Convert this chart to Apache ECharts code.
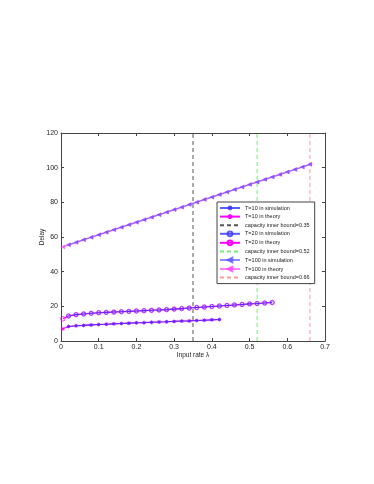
<!DOCTYPE html>
<html><head><meta charset="utf-8">
<script src="https://cdn.jsdelivr.net/npm/echarts@6/dist/echarts.min.js"></script>
<style>html,body{margin:0;padding:0;background:#fff}#c{width:374px;height:484px}</style>
</head><body><div id="c"></div>
<script>
// ---- data ----
const lam10 = [0.02,0.04,0.06,0.08,0.10,0.12,0.14,0.16,0.18,0.20,0.22,0.24,0.26,0.28,0.30,0.32,0.34,0.36,0.38,0.40,0.42];
const sim10 = [8.4,8.8,9.0,9.3,9.5,9.7,9.9,10.1,10.3,10.5,10.6,10.8,11.0,11.1,11.3,11.5,11.6,11.8,12.0,12.2,12.4];
const theoLam10 = [0.005,0.02,0.04,0.06,0.08,0.10,0.12,0.14,0.16,0.18,0.20,0.22,0.24,0.26,0.28,0.30,0.32,0.34,0.36,0.38,0.40,0.42];
const theo10 = [7.0,8.4,8.8,9.0,9.3,9.5,9.7,9.9,10.1,10.3,10.5,10.6,10.8,11.0,11.1,11.3,11.5,11.6,11.8,12.0,12.2,12.4];

const lam20 = [0.02,0.04,0.06,0.08,0.10,0.12,0.14,0.16,0.18,0.20,0.22,0.24,0.26,0.28,0.30,0.32,0.34,0.36,0.38,0.40,0.42,0.44,0.46,0.48,0.50,0.52,0.54,0.56];
const sim20 = [14.4,15.2,15.6,16.0,16.3,16.5,16.7,16.9,17.1,17.3,17.5,17.7,17.9,18.1,18.4,18.7,19.0,19.3,19.6,19.9,20.2,20.5,20.8,21.1,21.4,21.6,21.9,22.2];
const theoLam20 = [0.005,0.02,0.04,0.06,0.08,0.10,0.12,0.14,0.16,0.18,0.20,0.22,0.24,0.26,0.28,0.30,0.32,0.34,0.36,0.38,0.40,0.42,0.44,0.46,0.48,0.50,0.52,0.54,0.56];
const theo20 = [12.8,14.4,15.2,15.6,16.0,16.3,16.5,16.7,16.9,17.1,17.3,17.5,17.7,17.9,18.1,18.4,18.7,19.0,19.3,19.6,19.9,20.2,20.5,20.8,21.1,21.4,21.6,21.9,22.2];

const lam100 = [0.02,0.04,0.06,0.08,0.10,0.12,0.14,0.16,0.18,0.20,0.22,0.24,0.26,0.28,0.30,0.32,0.34,0.36,0.38,0.40,0.42,0.44,0.46,0.48,0.50,0.52,0.54,0.56,0.58,0.60,0.62,0.64,0.66];
const sim100 = [55.5,56.9,58.4,59.8,61.3,62.7,64.2,65.6,67.1,68.5,70.0,71.4,72.9,74.3,75.8,77.2,78.7,80.1,81.6,83.0,84.5,85.9,87.4,88.8,90.3,91.7,93.2,94.6,96.1,97.5,99.0,100.4,101.9];
const theoLam100 = [0.005,0.02,0.04,0.06,0.08,0.10,0.12,0.14,0.16,0.18,0.20,0.22,0.24,0.26,0.28,0.30,0.32,0.34,0.36,0.38,0.40,0.42,0.44,0.46,0.48,0.50,0.52,0.54,0.56,0.58,0.60,0.62,0.64,0.66];
const theo100 = [54.2,55.5,56.9,58.4,59.8,61.3,62.7,64.2,65.6,67.1,68.5,70.0,71.4,72.9,74.3,75.8,77.2,78.7,80.1,81.6,83.0,84.5,85.9,87.4,88.8,90.3,91.7,93.2,94.6,96.1,97.5,99.0,100.4,101.9];

const bounds = [0.35, 0.52, 0.66];
const boundNames = ['capacity inner bound=0.35','capacity inner bound=0.52','capacity inner bound=0.66'];
const xTicks = {min:0, max:0.7, interval:0.1};
const yTicks = {min:0, max:120, interval:20};

// ---- chart ----
const pairs = (xs, ys) => xs.map((x,i)=>[x, ys[i]]);
const FONT = 'Liberation Sans';
const BLUE = 'rgba(50,50,255,0.8)';
const BLUE2 = 'rgba(90,90,255,0.7)';
const MAG = '#ff00ff';
const MAG2 = 'rgba(255,60,255,0.65)';
const CLEAR = 'rgba(0,0,0,0)';
const star = 'path://M0,-10L0,10M-10,0L10,0M-7,-7L7,7M-7,7L7,-7';

function ser(name, data, color, symbol, size, lw, item, extra) {
  return Object.assign({
    name, type:'line', data, symbol, symbolSize:size, showSymbol:true,
    lineStyle:{color, width:lw}, itemStyle:item,
    animation:false, z:3
  }, extra||{});
}
function vline(name, x, color) {
  return {name, type:'line', data:[[x,0],[x,120]], symbol:'none', showSymbol:false,
    lineStyle:{color, width:1, type:[4,3]}, itemStyle:{color:CLEAR, borderColor:CLEAR}, animation:false, z:1};
}

const series = [
  ser('T=10 in theory', pairs(theoLam10, theo10), MAG, star, 4, 1.1, {color:CLEAR, borderColor:MAG, borderWidth:0.8}),
  ser('T=10 in simulation', pairs(lam10, sim10), BLUE, 'circle', 3, 1.1, {color:BLUE}),
  vline(boundNames[0], bounds[0], '#555'),
  ser('T=20 in theory', pairs(theoLam20, theo20), MAG, 'circle', 4.5, 1.1, {color:CLEAR, borderColor:MAG, borderWidth:0.8}),
  ser('T=20 in simulation', pairs(lam20, sim20), BLUE, 'circle', 3.5, 1.1, {color:CLEAR, borderColor:BLUE, borderWidth:0.8}),
  vline(boundNames[1], bounds[1], '#77ee77'),
  ser('T=100 in theory', pairs(theoLam100, theo100), MAG2, 'triangle', 4, 1.5, {color:MAG2, borderColor:MAG2, borderWidth:0.5}, {symbolRotate:90}),
  ser('T=100 in simulation', pairs(lam100, sim100), BLUE2, 'triangle', 3.5, 1.1, {color:BLUE2, borderColor:BLUE2, borderWidth:0.5}, {symbolRotate:90}),
  vline(boundNames[2], bounds[2], '#ff9999'),
];

const legendOrder = ['T=10 in simulation','T=10 in theory',boundNames[0],'T=20 in simulation','T=20 in theory',boundNames[1],'T=100 in simulation','T=100 in theory',boundNames[2]];

const mkLine = () => ({show:true, onZero:false, lineStyle:{color:'#444', width:1}});
const mkTick = () => ({show:true, inside:true, length:3, lineStyle:{color:'#444', width:1}});
const lab = {fontFamily:FONT, fontSize:7, color:'#222'};

const option = {
  backgroundColor:'#fff',
  animation:false,
  grid:{left:61, right:49, top:133, bottom:143, containLabel:false},
  xAxis:[
    {type:'value', ...xTicks, position:'bottom', axisLine:mkLine(), axisTick:mkTick(), splitLine:{show:false},
     axisLabel:{...lab, margin:3}, name:'Input rate \u03bb', nameLocation:'middle', nameGap:11, nameMoveOverlap:false,
     nameTextStyle:{fontFamily:FONT, fontSize:6.5, color:'#222', verticalAlign:'top'}},
    {type:'value', ...xTicks, position:'top', axisLine:mkLine(), axisTick:mkTick(), splitLine:{show:false}, axisLabel:{show:false}}
  ],
  yAxis:[
    {type:'value', ...yTicks, position:'left', axisLine:mkLine(), axisTick:mkTick(), splitLine:{show:false},
     axisLabel:{...lab, margin:3}, name:'Delay', nameLocation:'middle', nameGap:15, nameMoveOverlap:false,
     nameTextStyle:{fontFamily:FONT, fontSize:6.5, color:'#222'}},
    {type:'value', ...yTicks, position:'right', axisLine:mkLine(), axisTick:mkTick(), splitLine:{show:false}, axisLabel:{show:false}}
  ],
  legend:{
    data:legendOrder, orient:'vertical', left:217, top:202, itemWidth:20, itemHeight:6, itemGap:2.2,
    padding:[3,5,3,2], borderColor:'#444', borderWidth:1, backgroundColor:'#fff',
    textStyle:{fontFamily:FONT, fontSize:5.5, lineHeight:6, color:'#222', padding:0}, selectedMode:false, z:10
  },
  series
};
const chart = echarts.init(document.getElementById('c'), null, {renderer:'canvas'});
chart.setOption(option);
</script>
</body></html>
